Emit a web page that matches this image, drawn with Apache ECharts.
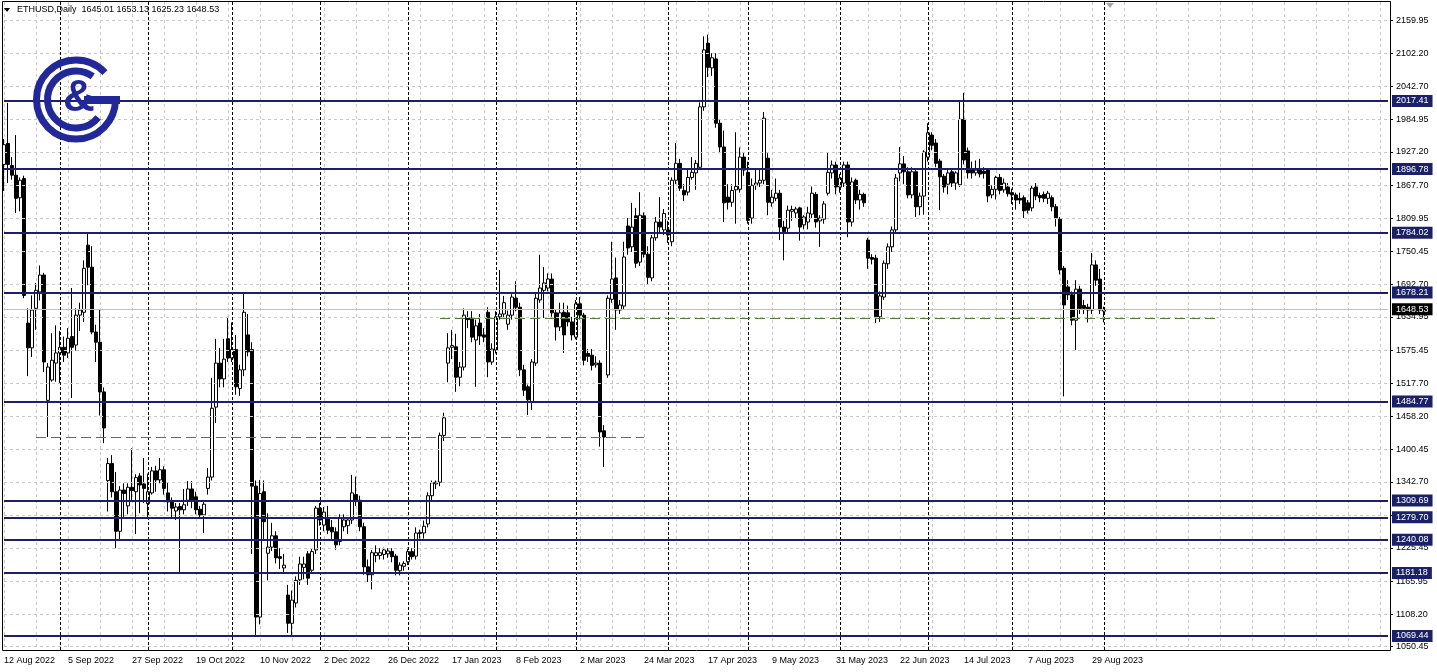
<!DOCTYPE html>
<html><head><meta charset="utf-8">
<script src="https://cdn.jsdelivr.net/npm/echarts@6/dist/echarts.min.js"></script>
<style>html,body{margin:0;padding:0;background:#fff;overflow:hidden}#c{width:1437px;height:672px}</style>
</head><body><div id="c"></div>
<script>
// ---------- DATA ----------
const symbolTitle = 'ETHUSD,Daily';
const headerValues = ['1645.01', '1653.13', '1625.23', '1648.53'];
const firstBarDate = [2022, 8, 12];      // 12 Aug 2022, weekday bars only
const totalSlots = 347;                    // bars + empty shifted area on the right
// [open, high, low, close]
const ohlc = [
[1905,1950,1858,1940],[1942,2014,1872,1905],[1903,1918,1878,1886],[1886,1957,1819,1845],[1846,1882,1822,1877],
[1880,1885,1668,1673],[1624,1650,1530,1580],[1580,1673,1564,1647],[1650,1695,1612,1682],[1679,1726,1664,1709],
[1709,1713,1537,1555],[1487,1553,1422,1546],[1523,1606,1520,1558],[1553,1620,1520,1571],[1571,1610,1518,1581],
[1581,1600,1555,1567],[1571,1615,1562,1597],[1600,1686,1491,1581],[1585,1650,1575,1638],[1638,1660,1610,1647],
[1643,1735,1626,1721],[1762,1783,1691,1723],[1723,1760,1604,1608],[1608,1621,1555,1590],[1590,1648,1460,1502],
[1502,1510,1411,1438],[1345,1385,1290,1375],[1375,1390,1315,1325],[1325,1360,1225,1255],[1255,1335,1240,1328],
[1328,1340,1280,1322],[1300,1340,1285,1333],[1333,1402,1308,1327],[1325,1356,1250,1350],[1353,1358,1287,1337],
[1339,1385,1305,1331],[1304,1357,1278,1325],[1323,1369,1320,1362],[1362,1371,1325,1346],[1346,1385,1340,1364],
[1364,1370,1320,1331],[1323,1341,1290,1307],[1307,1315,1280,1296],[1291,1305,1275,1298],[1299,1305,1183,1293],
[1293,1330,1285,1302],[1310,1344,1300,1330],[1330,1344,1296,1310],[1316,1325,1285,1293],[1294,1300,1277,1284],
[1284,1310,1252,1303],[1331,1367,1320,1351],[1351,1527,1345,1473],[1475,1596,1447,1553],[1553,1580,1510,1525],
[1525,1596,1510,1560],[1596,1635,1555,1562],[1562,1625,1555,1577],[1577,1603,1497,1511],[1508,1550,1495,1541],
[1541,1679,1530,1643],[1603,1640,1565,1573],[1577,1590,1215,1335],[1335,1345,1071,1103],[1103,1346,1090,1322],
[1325,1345,1240,1272],[1216,1287,1168,1227],[1227,1270,1220,1247],[1247,1255,1198,1208],[1210,1225,1188,1207],
[1190,1215,1180,1195],[1142,1160,1075,1092],[1092,1150,1071,1133],[1128,1175,1120,1168],[1169,1210,1160,1197],
[1191,1210,1170,1197],[1215,1220,1160,1172],[1186,1225,1180,1219],[1222,1300,1215,1296],[1296,1305,1265,1275],
[1266,1298,1255,1289],[1277,1300,1250,1257],[1262,1275,1240,1254],[1254,1262,1222,1231],[1237,1285,1230,1279],
[1263,1285,1255,1275],[1265,1280,1250,1275],[1275,1355,1268,1323],[1320,1352,1300,1310],[1310,1318,1255,1263],
[1263,1270,1178,1192],[1192,1205,1165,1178],[1178,1222,1152,1217],[1212,1230,1200,1217],[1212,1225,1205,1217],
[1214,1226,1205,1222],[1215,1225,1208,1220],[1219,1225,1200,1210],[1211,1215,1177,1186],[1185,1200,1177,1195],
[1193,1202,1185,1198],[1201,1226,1195,1219],[1219,1225,1205,1210],[1211,1262,1205,1252],[1251,1258,1242,1253],
[1252,1274,1242,1264],[1268,1324,1262,1318],[1318,1345,1310,1341],[1339,1345,1330,1342],[1342,1430,1335,1425],
[1425,1465,1415,1456],[1553,1606,1519,1580],[1581,1612,1560,1584],[1582,1605,1502,1528],[1528,1555,1512,1546],
[1546,1650,1540,1638],[1633,1645,1615,1630],[1633,1645,1590,1599],[1594,1630,1511,1619],[1624,1640,1585,1601],
[1603,1615,1590,1599],[1643,1652,1528,1555],[1555,1588,1550,1578],[1576,1645,1570,1635],[1635,1718,1630,1640],
[1640,1672,1632,1660],[1622,1646,1612,1638],[1638,1675,1630,1670],[1668,1698,1645,1652],[1652,1660,1530,1541],
[1541,1550,1495,1505],[1511,1515,1461,1488],[1485,1560,1470,1555],[1553,1676,1548,1668],[1665,1745,1660,1686],
[1682,1723,1633,1695],[1686,1712,1680,1702],[1702,1712,1635,1642],[1642,1648,1593,1617],[1617,1660,1610,1642],
[1643,1660,1571,1603],[1642,1655,1618,1626],[1626,1635,1593,1603],[1599,1665,1595,1658],[1658,1670,1630,1638],
[1638,1642,1549,1558],[1570,1578,1555,1565],[1567,1578,1540,1549],[1550,1565,1545,1553],[1553,1558,1405,1431],
[1433,1443,1369,1422],[1532,1673,1527,1668],[1666,1768,1660,1702],[1704,1740,1612,1647],[1647,1665,1640,1656],
[1654,1768,1648,1741],[1796,1810,1745,1757],[1759,1837,1750,1794],[1814,1828,1722,1730],[1732,1856,1725,1815],
[1814,1820,1740,1746],[1746,1760,1692,1705],[1704,1780,1698,1775],[1775,1812,1770,1803],[1803,1847,1785,1794],
[1789,1826,1780,1818],[1789,1805,1766,1780],[1768,1882,1760,1877],[1877,1943,1870,1907],[1907,1915,1858,1863],
[1859,1870,1840,1851],[1856,1895,1850,1882],[1882,1918,1878,1891],[1890,1913,1860,1907],[1900,2015,1895,2007],
[2007,2132,2000,2108],[2120,2135,2060,2077],[2076,2102,2062,2094],[2092,2102,1970,1978],[1978,1985,1925,1936],
[1936,1965,1803,1837],[1847,1870,1825,1838],[1838,1870,1830,1859],[1860,1962,1800,1866],[1861,1935,1855,1918],
[1918,1925,1885,1895],[1891,1910,1800,1806],[1810,1880,1800,1868],[1868,1895,1860,1872],[1872,1895,1865,1877],
[1877,1998,1870,1987],[1916,1925,1815,1838],[1837,1860,1830,1847],[1845,1880,1840,1854],[1854,1860,1771,1794],
[1794,1805,1735,1786],[1792,1832,1785,1824],[1822,1832,1805,1825],[1819,1830,1810,1826],[1828,1830,1770,1794],
[1798,1815,1790,1812],[1803,1830,1790,1819],[1817,1866,1810,1854],[1852,1856,1793,1803],[1805,1815,1759,1810],
[1808,1840,1800,1835],[1854,1927,1850,1891],[1890,1912,1880,1904],[1904,1910,1852,1865],[1865,1888,1855,1881],
[1872,1910,1865,1904],[1904,1910,1776,1803],[1803,1882,1795,1874],[1877,1880,1835,1842],[1842,1860,1825,1852],
[1852,1855,1830,1837],[1771,1775,1720,1739],[1740,1746,1728,1737],[1739,1745,1624,1635],[1635,1680,1626,1672],
[1670,1735,1665,1730],[1729,1765,1720,1759],[1759,1795,1750,1789],[1789,1888,1785,1881],[1890,1936,1875,1906],
[1906,1920,1870,1892],[1892,1900,1845,1851],[1851,1900,1845,1892],[1892,1895,1812,1830],[1830,1855,1815,1849],
[1849,1930,1816,1927],[1918,1978,1910,1961],[1957,1962,1930,1939],[1943,1950,1900,1907],[1911,1915,1824,1883],
[1884,1888,1855,1865],[1870,1895,1852,1890],[1892,1898,1865,1872],[1872,1893,1860,1890],[1869,2017,1865,1985],
[1985,2032,1905,1913],[1929,1935,1880,1890],[1895,1910,1880,1890],[1890,1912,1885,1895],[1897,1915,1882,1888],
[1893,1900,1880,1889],[1895,1898,1838,1849],[1851,1868,1845,1861],[1861,1885,1843,1882],[1882,1888,1852,1859],
[1860,1880,1855,1872],[1865,1872,1848,1853],[1855,1862,1835,1851],[1851,1855,1825,1842],[1845,1855,1835,1842],
[1846,1850,1810,1823],[1837,1842,1818,1824],[1828,1868,1822,1863],[1865,1872,1842,1849],[1850,1855,1838,1846],
[1852,1857,1838,1845],[1845,1858,1835,1854],[1846,1850,1822,1830],[1830,1835,1795,1810],[1808,1812,1710,1718],
[1721,1725,1494,1656],[1688,1700,1665,1674],[1674,1680,1620,1629],[1629,1700,1576,1684],[1684,1690,1640,1650],
[1655,1665,1640,1650],[1652,1658,1625,1647],[1647,1748,1640,1727],[1727,1735,1690,1700],[1702,1720,1640,1647],
[1645.01,1653.13,1625.23,1648.53]
];
const priceTicks = [2159.95,2102.20,2042.70,1984.95,1927.20,1867.70,1809.95,1750.45,1692.70,1634.95,
  1575.45,1517.70,1458.20,1400.45,1342.70,1283.20,1225.45,1165.95,1108.20,1050.45];
const levelLines = [2017.41,1896.78,1784.02,1678.21,1484.77,1309.69,1279.70,1240.08,1181.18,1069.44];
const currentPrice = 1648.53;
// dashed support lines: [first bar index, last bar index, price]
const supportLines = [[8, 160, 1421.5], [109, 303, 1632.4]];

// ---------- BUILD ----------
const monthNames = ['Jan','Feb','Mar','Apr','May','Jun','Jul','Aug','Sep','Oct','Nov','Dec'];
const categories = [], catMonth = [];
let t = Date.UTC(firstBarDate[0], firstBarDate[1]-1, firstBarDate[2]);
while (categories.length < totalSlots) {
  const d = new Date(t);
  const wd = d.getUTCDay();
  if (wd !== 0 && wd !== 6) {
    categories.push(d.getUTCDate() + ' ' + monthNames[d.getUTCMonth()] + ' ' + d.getUTCFullYear());
    catMonth.push(d.getUTCMonth());
  }
  t += 86400000;
}
const nBars = ohlc.length;
const separators = [];
for (let i = 1; i < nBars; i++) if (catMonth[i] !== catMonth[i-1]) separators.push(i);
const isLabel = (i) => i % 16 === 0 && i < nBars;

const candleData = ohlc.map(r => [r[0], r[3], r[2], r[1]]);

const FONT = 'Liberation Sans, Arial, sans-serif';
const NAVY = '#1b2168';
const gridTop = 2, gridH = 648, gridLeft = 4, step = 4;
const yMax = 2192.83, yMin = 1044.65;

const chart = echarts.init(document.getElementById('c'), null, {renderer: 'canvas'});
const blankLine = (z, ml) => ({type: 'line', data: [], silent: true, z: z, markLine: Object.assign({symbol: ['none','none'], silent: true, animation: false, label: {show: false}}, ml)});

chart.setOption({
  animation: false,
  backgroundColor: '#ffffff',
  grid: {left: gridLeft, top: gridTop, width: (totalSlots - 1) * step, height: gridH},
  xAxis: {
    type: 'category', data: categories, boundaryGap: false,
    axisLine: {show: false}, axisTick: {show: false},
    axisLabel: {interval: 0, formatter: (v, i) => isLabel(i) ? v : '', align: 'left', margin: 6,
      fontSize: 9, color: '#000', fontFamily: FONT, hideOverlap: false},
    splitLine: {show: true, interval: (i) => i % 8 === 0, lineStyle: {color: '#c8c8c8', type: [3, 3], width: 1}}
  },
  yAxis: {
    type: 'value', position: 'right', min: yMin, max: yMax, offset: 2,
    axisLine: {show: false},
    axisTick: {show: true, customValues: priceTicks, length: 3, lineStyle: {color: '#000'}},
    axisLabel: {show: true, customValues: priceTicks, formatter: v => v.toFixed(2), margin: 6,
      fontSize: 9, color: '#000', fontFamily: FONT},
    splitLine: {show: false}
  },
  series: [
    blankLine(1, {lineStyle: {color: '#c8c8c8', type: [3, 3], width: 1}, data: priceTicks.map(v => ({yAxis: v}))}),
    blankLine(1, {lineStyle: {color: '#c0c0c0', type: 'solid', width: 1}, data: [{yAxis: currentPrice}]}),
    blankLine(1, {lineStyle: {color: '#000', type: [3, 2], width: 1}, data: separators.map(i => ({xAxis: categories[i]}))}),
    {
      type: 'candlestick', data: candleData, barWidth: 3, clip: false, z: 2,
      itemStyle: {color: '#ffffff', color0: '#000000', borderColor: '#000000', borderColor0: '#000000', borderWidth: 1}
    },
    blankLine(3, {lineStyle: {color: '#4f7f2f', type: [10, 5], width: 1},
      data: supportLines.map(s => [{coord: [categories[s[0]], s[2]]}, {coord: [categories[s[1]], s[2]]}])}),
    blankLine(4, {lineStyle: {color: NAVY, type: 'solid', width: 2},
      label: {show: true, position: 'end', distance: 4, formatter: p => Number(p.value).toFixed(2),
        color: '#fff', backgroundColor: NAVY, padding: [2, 4, 1, 4], fontSize: 9, fontFamily: FONT},
      data: levelLines.map(v => ({yAxis: v}))}),
    blankLine(5, {lineStyle: {color: '#c0c0c0', width: 0},
      label: {show: true, position: 'end', distance: 4, formatter: p => Number(p.value).toFixed(2),
        color: '#fff', backgroundColor: '#000', padding: [2, 4, 1, 4], fontSize: 9, fontFamily: FONT},
      data: [{yAxis: currentPrice}]})
  ],
  graphic: [
    {type: 'rect', z: 20, silent: true, shape: {x: 2.5, y: 1.5, width: 1388, height: 649}, style: {fill: 'none', stroke: '#000', lineWidth: 1}},
    {type: 'polygon', z: 20, silent: true, shape: {points: [[4, 8], [10, 8], [7, 12]]}, style: {fill: '#000'}},
    {type: 'text', z: 20, silent: true, left: 17, top: 5, style: {text: symbolTitle + '  ' + headerValues.join(' '), fontSize: 9, fontFamily: FONT, fill: '#000'}},
    {type: 'polygon', z: 20, silent: true, shape: {points: [[1106, 3], [1114, 3], [1110, 8]]}, style: {fill: '#a8a8a8'}},
    // logo
    {type: 'arc', z: 15, silent: true, shape: {cx: 76, cy: 99.5, r: 39.5, startAngle: 0, endAngle: 317 * Math.PI / 180, clockwise: true}, style: {stroke: '#22279a', lineWidth: 7, fill: 'none'}},
    {type: 'arc', z: 15, silent: true, shape: {cx: 76, cy: 99.5, r: 28.5, startAngle: 39 * Math.PI / 180, endAngle: 306 * Math.PI / 180, clockwise: true}, style: {stroke: '#22279a', lineWidth: 7, fill: 'none'}},
    {type: 'rect', z: 15, silent: true, shape: {x: 84, y: 96, width: 36, height: 8}, style: {fill: '#22279a'}},
    {type: 'text', z: 15, silent: true, x: 79, y: 99, style: {text: '&', fontSize: 44, fontWeight: 'bold', fontFamily: FONT, fill: '#22279a', align: 'center', verticalAlign: 'middle'}}
  ]
});
</script>
</body></html>
